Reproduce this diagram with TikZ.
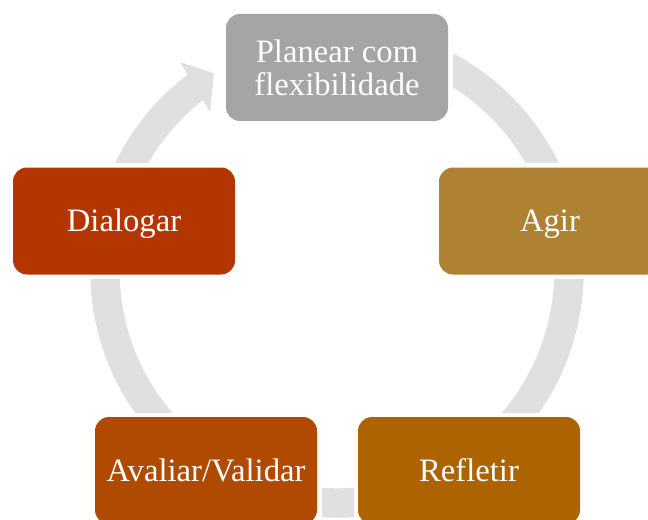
\documentclass[tikz,border=0pt]{standalone}
\usepackage{fontspec}
\setmainfont{Liberation Serif}
\definecolor{anel}{HTML}{E0E0E0}
\definecolor{cinza}{HTML}{A5A5A5}
\definecolor{ocre}{HTML}{AE8232}
\definecolor{tijolo}{HTML}{B33600}
\definecolor{ferrugem}{HTML}{B04A00}
\definecolor{caramelo}{HTML}{AD6300}

\begin{document}
\begin{tikzpicture}[x=0.75pt,y=0.75pt,
	etapa/.style={rounded corners=10.5pt, minimum width=166.5pt, minimum height=80.25pt,
		inner sep=0pt, align=center, text=white, font=\fontsize{24.5}{24.75}\selectfont},
	linha/.style={text height=16.2pt, text depth=0pt},
	halo/.style={fill=white, minimum width=173.25pt, minimum height=87pt, inner sep=0pt}]
	\useasboundingbox (0,0) rectangle (648,519);
	\clip (0,0) rectangle (648,519);
	% anel e seta
	\draw [anel, line width=22.1pt] (337,248) ++(127:232) arc [start angle=127, end angle=450, radius=232];
	\fill [anel] ([shift={(337,248)}]126.9:261) -- ([shift={(337,248)}]121.9:233) -- ([shift={(337,248)}]128.6:203.5) -- cycle;
	% caixas
	\node [halo] at (337,451.5) {};
	\node [halo] at (550,298) {};
	\node [halo] at (469,48.5) {};
	\node [halo] at (206,48.5) {};
	\node [halo] at (124,298) {};
	\node [etapa, fill=cinza] (planear) at (337,451.5) {Planear com\\flexibilidade};
	\node [etapa, linha, fill=ocre] (agir) at (550,298) {Agir};
	\node [etapa, linha, fill=caramelo] (refletir) at (469,48.5) {Refletir};
	\node [etapa, linha, fill=ferrugem] (avaliar) at (206,48.5) {Avaliar/Validar};
	\node [etapa, linha, fill=tijolo] (dialogar) at (124,298) {Dialogar};
\end{tikzpicture}
\end{document}
